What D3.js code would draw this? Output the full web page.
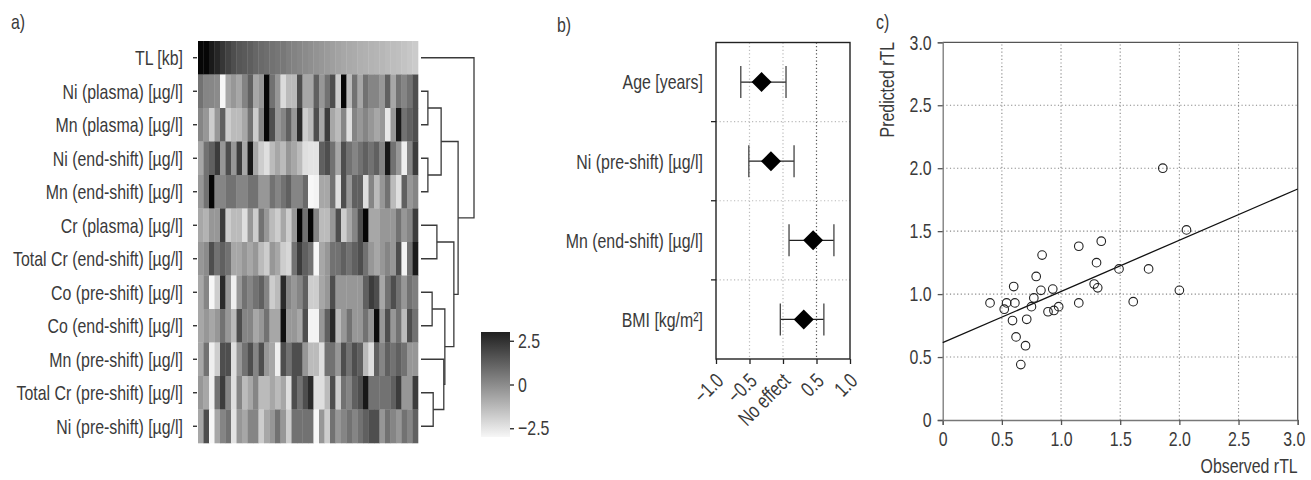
<!DOCTYPE html>
<html>
<head>
<meta charset="utf-8">
<script src="https://cdn.jsdelivr.net/npm/d3@7"></script>
<style>
body { margin: 0; background: #fff; }
text { font-family: "Liberation Sans Narrow", "Liberation Sans", Arial, sans-serif; fill: #3a3a3a; }
</style>
</head>
<body>
<div id="chart"></div>
<script>
// ---- data: panel a (heatmap) ----
var rowLabels = ["TL [kb]", "Ni (plasma) [µg/l]", "Mn (plasma) [µg/l]", "Ni (end-shift) [µg/l]",
  "Mn (end-shift) [µg/l]", "Cr (plasma) [µg/l]", "Total Cr (end-shift) [µg/l]", "Co (pre-shift) [µg/l]",
  "Co (end-shift) [µg/l]", "Mn (pre-shift) [µg/l]", "Total Cr (pre-shift) [µg/l]", "Ni (pre-shift) [µg/l]"];

var heatValues = [
  [3.0,3.0,2.5,2.2,1.8,1.5,1.2,1.0,0.9,0.8,0.6,0.5,0.4,0.3,0.2,0.15,0.0,-0.1,-0.2,-0.3,-0.4,-0.5,-0.6,-0.7,-0.8,-0.9,-1.0,-1.05,-1.1,-1.2,-1.25,-1.3,-1.35,-1.4,-1.5,-1.55,-1.6,-1.7,-1.8,-1.9],
  [0.3,-0.15,-0.2,-0.3,-3.0,-1.0,-0.6,-1.0,-0.1,0.75,-1.0,-0.6,3.0,0.3,-0.6,-2.3,-1.5,-1.5,1.2,-1.0,-1.0,0.75,-0.6,0.3,1.2,-1.95,3.0,-1.5,0.3,-1.0,0.3,-0.15,-0.15,-0.6,0.75,-1.0,0.3,-0.15,0.3,1.2],
  [-0.15,-0.6,-1.95,-0.6,0.75,-1.95,-1.5,-1.5,-1.0,0.3,-1.95,-0.15,3.0,1.2,-0.6,-0.15,0.75,-0.6,2.1,-1.95,-1.5,1.2,-1.0,1.65,-1.0,-1.5,-0.15,-2.4,-0.15,-0.6,-0.15,-0.6,-1.0,-0.6,-2.6,-0.6,2.55,0.3,0.75,1.2],
  [-1.0,0.3,0.75,1.65,-0.6,1.2,-0.6,1.65,-1.0,2.55,-1.0,-1.95,-2.4,-1.5,-1.0,-1.5,-0.6,-1.0,-1.5,-2.4,-2.5,-2.5,0.75,1.2,0.3,-1.0,1.2,0.3,-0.15,0.3,0.75,0.3,0.75,-0.15,2.55,0.3,-0.6,-2.8,-0.15,1.65],
  [-0.6,0.3,3.0,-0.15,-0.15,0.3,0.3,-0.15,-0.15,0.3,0.3,-0.6,-0.6,0.3,-0.15,0.3,0.75,-0.15,-0.15,0.5,-3.0,-2.9,-1.0,-1.0,0.3,-2.4,1.2,-0.6,0.75,0.75,-2.4,-0.15,-1.5,-0.6,0.3,-1.5,-2.4,0.75,-0.6,-0.15],
  [-1.0,-1.3,-0.6,-0.6,1.65,-1.95,-1.5,-1.5,-2.4,-0.6,-1.95,0.3,-0.6,-1.5,-1.95,-1.0,-1.95,-0.6,3.0,0.3,3.0,-0.15,-1.5,-1.5,-0.6,1.2,-1.95,-1.0,-0.15,1.2,3.0,-1.0,-1.0,-0.6,-0.6,-0.6,0.3,-0.6,-0.15,1.65],
  [-0.6,-0.3,1.2,0.3,0.75,0.3,-1.0,-1.0,-0.6,-1.0,-0.6,-1.5,-1.95,-0.6,-1.0,-1.95,-2.2,0.3,1.65,0.75,0.3,-3.0,-1.0,-0.6,0.3,0.3,0.75,0.3,0.75,1.2,0.3,-0.6,-1.0,-0.6,-0.15,-0.6,1.2,-2.9,0.3,2.5],
  [-1.0,-0.15,-3.0,-1.95,2.1,-0.6,-2.8,-0.6,0.3,-0.15,0.3,0.75,-0.15,-1.95,-1.5,2.1,-0.15,-0.6,-0.15,0.75,-1.95,-1.95,-1.0,-0.6,1.2,-0.6,-0.6,-0.6,-0.6,-0.6,0.75,1.65,1.2,-1.0,0.3,1.2,0.3,-0.6,0.3,0.0],
  [-1.0,-0.6,-1.0,-0.6,0.3,-0.6,-1.5,1.2,-0.15,-0.15,-1.0,-0.6,0.3,-1.0,-1.0,2.8,-0.6,-0.6,-1.0,1.2,-2.9,-2.9,-0.6,0.75,2.1,-1.5,-0.6,0.3,-0.6,-0.6,0.3,-0.6,2.8,-0.6,1.2,-0.6,0.3,-1.5,1.2,0.3],
  [-1.0,0.3,-2.8,-1.95,1.2,1.2,-2.4,-0.6,0.3,1.2,-0.15,1.2,-0.6,-1.0,-2.8,1.2,0.3,1.2,1.2,-0.6,-1.5,-1.5,-2.4,0.3,0.3,-0.6,1.2,0.3,1.2,0.75,-1.5,-2.4,0.75,-0.15,0.75,0.3,0.75,0.3,-0.6,-0.6],
  [-0.6,-1.0,-2.8,0.3,1.65,-0.15,-2.4,-0.15,-1.5,-1.0,-0.15,-1.5,-1.5,-1.0,-1.5,-1.0,-2.4,1.2,0.3,1.2,2.1,-2.4,-2.4,-1.5,1.2,-1.95,0.3,-0.15,0.75,1.2,2.55,0.3,0.3,0.3,0.3,0.75,1.65,-0.6,-0.6,1.65],
  [-1.0,1.2,-3.0,-1.0,-0.15,0.3,-2.5,-0.6,-1.0,-0.15,-0.15,-1.95,-1.0,-0.6,0.3,-0.6,-1.95,0.3,0.3,0.3,0.3,-3.0,-0.6,-1.95,0.3,-0.6,-0.15,0.3,-0.15,0.3,0.75,1.2,1.2,-0.6,0.3,-0.15,-0.6,0.3,-0.15,0.75]
];

// dendrogram merges: [childA, childB, height]; nodes 0-11 are rows, 12+ are merges in order
var merges = [[1,2,0.13],[3,4,0.13],[12,13,0.38],[5,6,0.30],[7,8,0.21],[10,11,0.23],
  [9,17,0.43],[16,18,0.45],[15,19,0.62],[14,20,0.70],[0,21,1.0]];

var legendTicks = [2.5, 0, -2.5];

// ---- data: panel b (forest plot) ----
var effectNames = ["Age [years]", "Ni (pre-shift) [µg/l]", "Mn (end-shift) [µg/l]", "BMI [kg/m²]"];
var effectEst = [-0.32, -0.18, 0.45, 0.31];
var effectLow = [-0.63, -0.51, 0.09, -0.04];
var effectHigh = [0.045, 0.165, 0.76, 0.61];
var effectTicks = [-1, -0.5, 0, 0.5, 1];
var effectTickLabels = ["\u22121.0", "\u22120.5", "No effect", "0.5", "1.0"];

// ---- data: panel c (scatter) ----
var observed = [0.40,0.54,0.52,0.61,0.60,0.59,0.62,0.70,0.66,0.71,0.75,0.77,0.79,0.83,0.84,0.89,0.94,0.93,0.98,1.15,1.15,1.30,1.28,1.31,1.34,1.49,1.61,1.74,2.00,1.86,2.06];
var predicted = [0.93,0.93,0.88,0.93,1.06,0.79,0.66,0.59,0.44,0.80,0.90,0.97,1.14,1.03,1.31,0.86,0.87,1.04,0.90,0.93,1.38,1.25,1.08,1.05,1.42,1.20,0.94,1.20,1.03,2.00,1.51];
var fitLine = {intercept: 0.614, slope: 0.407};
var scatterTicks = [0, 0.5, 1, 1.5, 2, 2.5, 3];

var W = 1311, H = 480, FS = 21;

var svg = d3.select("#chart").append("svg")
  .attr("width", W).attr("height", H);

// condense text so that it looks like the narrow face in the figure
var probe = svg.append("text").attr("font-size", FS).text("Total Cr (end-shift) [µg/l]");
var squeeze = 170 / probe.node().getComputedTextLength();
probe.remove();
function condense(sel) {
  sel.each(function() {
    var w = this.getComputedTextLength();
    d3.select(this).attr("textLength", w * squeeze).attr("lengthAdjust", "spacingAndGlyphs");
  });
}

function panelLabel(x, y, t) {
  svg.append("text").attr("x", x).attr("y", y).attr("dy", "0.35em")
    .attr("font-size", FS).text(t).call(condense);
}
panelLabel(11, 22, "a)");
panelLabel(557, 25, "b)");
panelLabel(876, 22, "c)");

// ================= panel a =================
var nCols = heatValues[0].length;
var hx = d3.scaleBand().domain(d3.range(nCols)).range([198, 418]);
var hy = d3.scaleBand().domain(d3.range(rowLabels.length)).range([41, 443]);
var grey = d3.scaleLinear().domain([-3, 3]).range(["#f7f7f7", "#060606"]);

var heat = svg.append("g");
heatValues.forEach(function(row, r) {
  heat.selectAll(null).data(row).enter().append("rect")
    .attr("x", function(d, c) { return hx(c); })
    .attr("y", hy(r))
    .attr("width", hx.bandwidth() + 0.3)
    .attr("height", hy.bandwidth() + 0.3)
    .attr("fill", function(d) { return grey(d); });
});

svg.selectAll(".rowtick").data(rowLabels).enter().append("line")
  .attr("x1", 193).attr("x2", 197)
  .attr("y1", function(d, i) { return hy(i) + hy.bandwidth() / 2; })
  .attr("y2", function(d, i) { return hy(i) + hy.bandwidth() / 2; })
  .attr("stroke", "#222").attr("stroke-width", 1.3);

svg.selectAll(".rowlab").data(rowLabels).enter().append("text")
  .attr("x", 183)
  .attr("y", function(d, i) { return hy(i) + hy.bandwidth() / 2; })
  .attr("dy", "0.35em").attr("text-anchor", "end").attr("font-size", FS)
  .text(function(d) { return d; })
  .call(condense);

// dendrogram
var dx = d3.scaleLinear().domain([0, 1]).range([421, 474]);
var nodeX = [], nodeY = [];
rowLabels.forEach(function(d, i) { nodeX[i] = 421; nodeY[i] = hy(i) + hy.bandwidth() / 2; });
var dendro = svg.append("g");
merges.forEach(function(m, k) {
  var id = rowLabels.length + k, a = m[0], b = m[1];
  nodeX[id] = dx(m[2]);
  nodeY[id] = (nodeY[a] + nodeY[b]) / 2;
  dendro.append("path")
    .attr("d", "M" + nodeX[a] + "," + nodeY[a] + "H" + nodeX[id] + "V" + nodeY[b] + "H" + nodeX[b])
    .attr("fill", "none").attr("stroke", "#3a3a3a").attr("stroke-width", 1.3);
});

// colour legend
var ly = d3.scaleLinear().domain([-3, 3]).range([437, 332]);
var grad = svg.append("defs").append("linearGradient").attr("id", "lg")
  .attr("x1", 0).attr("x2", 0).attr("y1", 0).attr("y2", 1);
grad.append("stop").attr("offset", "0%").attr("stop-color", "#202020");
grad.append("stop").attr("offset", "100%").attr("stop-color", grey(-3));
svg.append("rect").attr("x", 481).attr("y", ly(3)).attr("width", 29)
  .attr("height", ly(-3) - ly(3)).attr("fill", "url(#lg)");
var lAxis = svg.append("g").attr("transform", "translate(510,0)")
  .call(d3.axisRight(ly).tickValues(legendTicks).tickSize(4).tickPadding(4)
    .tickFormat(function(d) { return d < 0 ? "\u2212" + Math.abs(d) : d; }));
lAxis.select(".domain").remove();
lAxis.selectAll("line").attr("stroke", "#222").attr("stroke-width", 1.3);
lAxis.selectAll("text").attr("font-size", FS).attr("font-family", null).call(condense);

// ================= panel b =================
var bx = d3.scaleLinear().domain([-1, 1]).range([716, 850]);
var by = d3.scaleBand().domain(effectNames).range([42.5, 359]);
var pb = svg.append("g");

[-0.5, 0, 0.5].forEach(function(v) {
  pb.append("line").attr("x1", bx(v)).attr("x2", bx(v)).attr("y1", 42.5).attr("y2", 359)
    .attr("stroke", v === 0.5 ? "#555" : "#bbb").attr("stroke-width", 1.2)
    .attr("stroke-dasharray", "1.2,2.4");
});
effectNames.slice(1).forEach(function(n) {
  pb.append("line").attr("x1", 716).attr("x2", 850).attr("y1", by(n)).attr("y2", by(n))
    .attr("stroke", "#bbb").attr("stroke-width", 1.2).attr("stroke-dasharray", "1.2,2.4");
  pb.append("line").attr("x1", 711).attr("x2", 716).attr("y1", by(n)).attr("y2", by(n))
    .attr("stroke", "#222").attr("stroke-width", 1.3);
});
pb.append("rect").attr("x", 716).attr("y", 42.5).attr("width", 134).attr("height", 359 - 42.5)
  .attr("fill", "none").attr("stroke", "#222").attr("stroke-width", 1.4);

var bAxis = pb.append("g").attr("transform", "translate(0,359)")
  .call(d3.axisBottom(bx).tickValues(effectTicks).tickSize(5)
    .tickFormat(function(d, i) { return effectTickLabels[i]; }));
bAxis.select(".domain").remove();
bAxis.selectAll("line").attr("stroke", "#222").attr("stroke-width", 1.3);
bAxis.selectAll("text")
  .attr("font-size", FS).attr("font-family", null)
  .attr("y", 0).attr("dy", "0.35em").attr("text-anchor", "end")
  .attr("transform", "translate(3,18) rotate(-45)")
  .call(condense);

pb.selectAll(".elab").data(effectNames).enter().append("text")
  .attr("x", 703).attr("y", function(d) { return by(d) + by.bandwidth() / 2; })
  .attr("dy", "0.35em").attr("text-anchor", "end").attr("font-size", FS)
  .text(function(d) { return d; }).call(condense);

effectNames.forEach(function(n, i) {
  var cy = by(n) + by.bandwidth() / 2;
  pb.append("line").attr("x1", bx(effectLow[i])).attr("x2", bx(effectHigh[i]))
    .attr("y1", cy).attr("y2", cy).attr("stroke", "#222").attr("stroke-width", 1.3);
  [effectLow[i], effectHigh[i]].forEach(function(v) {
    pb.append("line").attr("x1", bx(v)).attr("x2", bx(v)).attr("y1", cy - 16).attr("y2", cy + 16)
      .attr("stroke", "#444").attr("stroke-width", 1.3);
  });
  pb.append("path")
    .attr("d", d3.symbol().type(d3.symbolSquare).size(200)())
    .attr("transform", "translate(" + bx(effectEst[i]) + "," + cy + ") rotate(45)")
    .attr("fill", "#000");
});

// ================= panel c =================
var cx = d3.scaleLinear().domain([0, 3]).range([942.7, 1297.7]);
var cy = d3.scaleLinear().domain([0, 3]).range([420, 42.3]);
var pc = svg.append("g");
var fmt = function(d) { return d === 0 ? "0" : d.toFixed(1); };

scatterTicks.slice(1, -1).forEach(function(v) {
  pc.append("line").attr("x1", cx(v)).attr("x2", cx(v)).attr("y1", cy(0)).attr("y2", cy(3))
    .attr("stroke", "#888").attr("stroke-width", 1.1).attr("stroke-dasharray", "1.2,2.4");
  pc.append("line").attr("x1", cx(0)).attr("x2", cx(3)).attr("y1", cy(v)).attr("y2", cy(v))
    .attr("stroke", "#888").attr("stroke-width", 1.1).attr("stroke-dasharray", "1.2,2.4");
});
pc.append("path")
  .attr("d", "M" + cx(3) + "," + cy(0) + "V" + cy(3) + "H" + cx(0))
  .attr("fill", "none").attr("stroke", "#555").attr("stroke-width", 1.3);

var cxAxis = pc.append("g").attr("transform", "translate(0," + cy(0) + ")")
  .call(d3.axisBottom(cx).tickValues(scatterTicks).tickSize(5).tickPadding(6).tickFormat(fmt));
var cyAxis = pc.append("g").attr("transform", "translate(" + cx(0) + ",0)")
  .call(d3.axisLeft(cy).tickValues(scatterTicks).tickSize(5).tickPadding(6).tickFormat(fmt));
[cxAxis, cyAxis].forEach(function(a) {
  a.select(".domain").attr("stroke", "#777").attr("stroke-width", 1.3);
  a.selectAll("line").attr("stroke", "#555").attr("stroke-width", 1.3);
  a.selectAll("text").attr("font-size", FS).attr("font-family", null).call(condense);
});
// keep the last x label inside the page
cxAxis.selectAll("text").filter(function(d) { return d === 3; }).attr("dx", "-4");

pc.append("line")
  .attr("x1", cx(0)).attr("y1", cy(fitLine.intercept))
  .attr("x2", cx(3)).attr("y2", cy(fitLine.intercept + fitLine.slope * 3))
  .attr("stroke", "#111").attr("stroke-width", 1.3);

pc.selectAll(".pt").data(observed).enter().append("circle")
  .attr("cx", function(d) { return cx(d); })
  .attr("cy", function(d, i) { return cy(predicted[i]); })
  .attr("r", 4.3).attr("fill", "none").attr("stroke", "#222").attr("stroke-width", 1.1);

// axis titles: squeezed with a transform instead of textLength
pc.append("text")
  .attr("transform", "translate(" + cx(3) + ",466) scale(" + squeeze + ",1)")
  .attr("dy", "0.35em").attr("text-anchor", "end").attr("font-size", FS).text("Observed rTL");
pc.append("text").attr("transform", "translate(894,42) rotate(-90)")
  .attr("text-anchor", "end").attr("font-size", FS).text("Predicted rTL").call(condense);
</script>
</body>
</html>
